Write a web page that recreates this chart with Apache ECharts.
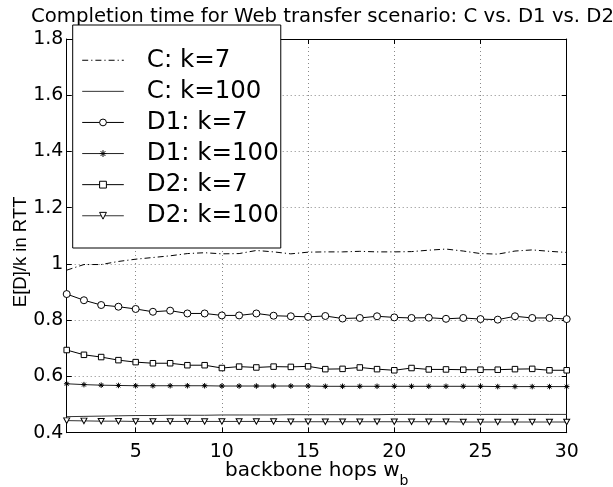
<!DOCTYPE html>
<html><head><meta charset="utf-8">
<script src="https://cdn.jsdelivr.net/npm/echarts@6/dist/echarts.min.js"></script>
<style>html,body{margin:0;padding:0;background:#fff}#c{width:613px;height:487px}</style>
</head><body><div id="c"></div>
<script>
const hops = [1,2,3,4,5,6,7,8,9,10,11,12,13,14,15,16,17,18,19,20,21,22,23,24,25,26,27,28,29,30];
const xTickValues = [5,10,15,20,25,30];
const seriesNames = ['C: k=7','C: k=100','D1: k=7','D1: k=100','D2: k=7','D2: k=100'];
const cK7 = [0.978,0.998,0.998,1.009,1.017,1.023,1.029,1.037,1.040,1.036,1.037,1.048,1.043,1.036,1.042,1.043,1.043,1.045,1.043,1.043,1.044,1.049,1.053,1.046,1.037,1.035,1.046,1.050,1.045,1.041];
const cK100 = [0.457,0.458,0.459,0.460,0.461,0.461,0.462,0.462,0.462,0.463,0.463,0.463,0.463,0.464,0.464,0.464,0.464,0.464,0.464,0.465,0.465,0.465,0.465,0.465,0.465,0.465,0.465,0.465,0.465,0.465];
const d1K7 = [0.893,0.871,0.854,0.848,0.840,0.830,0.834,0.824,0.824,0.817,0.817,0.824,0.816,0.814,0.812,0.815,0.806,0.808,0.814,0.810,0.808,0.809,0.805,0.808,0.804,0.802,0.814,0.808,0.808,0.804];
const d1K100 = [0.574,0.571,0.569,0.568,0.567,0.567,0.567,0.567,0.567,0.566,0.566,0.566,0.566,0.566,0.566,0.565,0.565,0.565,0.565,0.565,0.565,0.565,0.565,0.565,0.565,0.564,0.564,0.564,0.564,0.564];
const d2K7 = [0.694,0.677,0.669,0.658,0.651,0.647,0.647,0.640,0.640,0.630,0.635,0.632,0.635,0.634,0.636,0.626,0.627,0.632,0.626,0.622,0.630,0.625,0.625,0.624,0.624,0.624,0.626,0.627,0.622,0.622];
const d2K100 = [0.443,0.442,0.441,0.441,0.440,0.440,0.440,0.440,0.440,0.440,0.440,0.440,0.440,0.439,0.439,0.439,0.439,0.439,0.439,0.439,0.439,0.439,0.439,0.438,0.438,0.438,0.438,0.438,0.438,0.438];

function pairs(vals){ return hops.map((h,i)=>[h, vals[i]]); }

const ASTER = 'path://M5,0 L5,10 M0,5 L10,5 M1.5,1.5 L8.5,8.5 M8.5,1.5 L1.5,8.5';
const TRI = 'path://M0,0 L10,0 L5,8.66 Z';
const NOSYM = 'path://M0,0 M10,10';
const HF = 'DejaVu Sans';

function mkSeries(name, vals, opts){
  return Object.assign({
    name, type:'line', data: pairs(vals), animation:false, showAllSymbol:true,
    lineStyle:{color:'#000', width:1}, itemStyle:{color:'#000'}, z:3
  }, opts);
}

const series = [
  mkSeries(seriesNames[0], cK7, {symbol:NOSYM, showSymbol:false, lineStyle:{color:'#000', width:1, type:[6,3,1.2,3]}, itemStyle:{color:'none', borderColor:'none'}}),
  mkSeries(seriesNames[1], cK100, {symbol:NOSYM, showSymbol:false, lineStyle:{color:'#333', width:1}, itemStyle:{color:'none', borderColor:'none'}}),
  mkSeries(seriesNames[2], d1K7, {symbol:'circle', symbolSize:7, itemStyle:{color:'#fff', borderColor:'#000', borderWidth:1}}),
  mkSeries(seriesNames[3], d1K100, {symbol:ASTER, symbolSize:5.5, lineStyle:{color:'#222', width:1}, itemStyle:{color:'none', borderColor:'#000', borderWidth:1}}),
  mkSeries(seriesNames[4], d2K7, {symbol:'rect', symbolSize:5.5, itemStyle:{color:'#fff', borderColor:'#000', borderWidth:1}}),
  mkSeries(seriesNames[5], d2K100, {symbol:TRI, symbolSize:[6,5.5], lineStyle:{color:'#333', width:1}, itemStyle:{color:'#fff', borderColor:'#000', borderWidth:1}})
];

const axisLine = {show:true, onZero:false, lineStyle:{color:'#000', width:1}};
const gridLine = {show:true, lineStyle:{color:'#888', width:1, type:[1,3]}};

const option = {
  backgroundColor:'#fff',
  animation:false,
  title:{text:'Completion time for Web transfer scenario: C vs. D1 vs. D2', left:317.5, textAlign:'center', top:2,
    textStyle:{fontFamily:HF, fontSize:19.7, fontWeight:'normal', color:'#000'}},
  grid:{left:66.7, right:46.3, top:39, bottom:54.3, containLabel:false, outerBoundsMode:'none'},
  legend:{orient:'vertical', left:72.7, top:25, padding:[22.75,2,19.75,9], itemGap:6.1, itemWidth:41.6, itemHeight:8.5,
    backgroundColor:'#fff', borderColor:'#000', borderWidth:1, borderRadius:0, selectedMode:false,
    lineStyle:{width:1}, itemStyle:{borderWidth:1},
    textStyle:{fontFamily:HF, fontSize:24.5, lineHeight:24.5, color:'#000', padding:[0,0,0,18]},
    data:seriesNames, z:10},
  xAxis:[
    {type:'value', min:1, max:30, position:'bottom', axisLine,
     axisTick:{show:true, inside:true, length:5, lineStyle:{color:'#000'}, customValues:xTickValues},
     axisLabel:{customValues:xTickValues, fontFamily:HF, fontSize:18.9, color:'#000', margin:10},
     splitLine:gridLine,
     name:'{a|backbone hops w}{b|b}', nameLocation:'middle', nameGap:28, nameMoveOverlap:false,
     nameTextStyle:{rich:{a:{fontFamily:HF, fontSize:20, lineHeight:20, color:'#000'},
                          b:{fontFamily:HF, fontSize:14, lineHeight:14, padding:[22,0,0,0], color:'#000'}}}},
    {type:'value', min:1, max:30, position:'top', axisLine,
     axisTick:{show:true, inside:true, length:5, lineStyle:{color:'#000'}, customValues:xTickValues},
     axisLabel:{show:false, customValues:xTickValues}, splitLine:{show:false}}
  ],
  yAxis:[
    {type:'value', min:0.4, max:1.8, interval:0.2, position:'left', axisLine,
     axisTick:{show:true, inside:true, length:5, lineStyle:{color:'#000'}},
     axisLabel:{fontFamily:HF, fontSize:18.9, color:'#000', margin:3.5},
     splitLine:gridLine,
     name:'E[D]/k in RTT', nameLocation:'middle', nameGap:36, nameMoveOverlap:false,
     nameTextStyle:{fontFamily:'Liberation Sans', fontSize:18.5, color:'#000', padding:[0,32,0,0]}},
    {type:'value', min:0.4, max:1.8, interval:0.2, position:'right', axisLine,
     axisTick:{show:true, inside:true, length:5, lineStyle:{color:'#000'}},
     axisLabel:{show:false}, splitLine:{show:false}}
  ],
  series
};
const chart = echarts.init(document.getElementById('c'), null, {renderer:'canvas'});
chart.setOption(option);
</script></body></html>
